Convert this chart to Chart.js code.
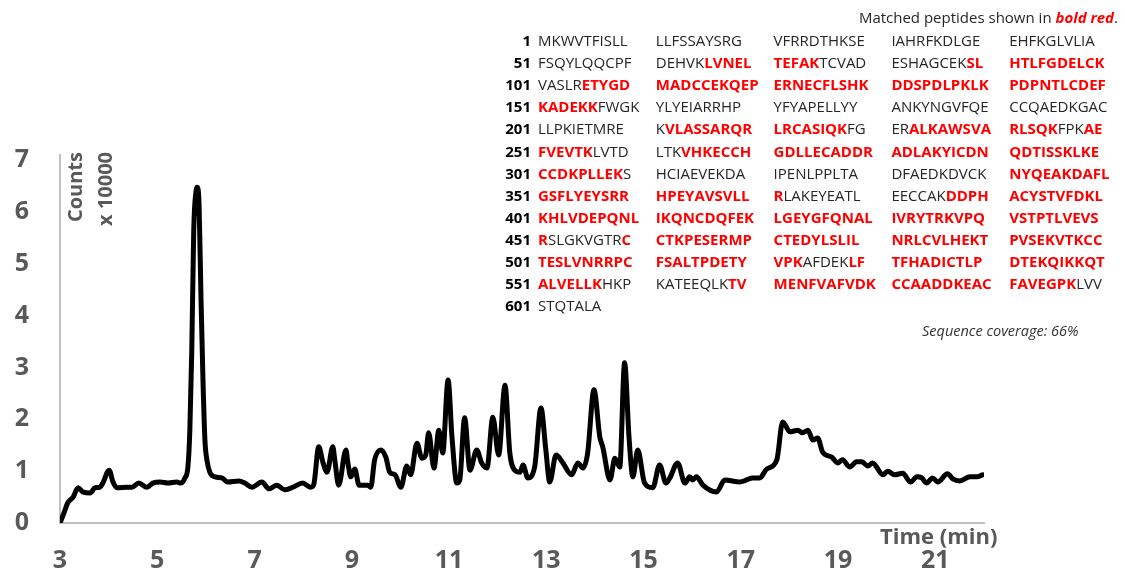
<!DOCTYPE html>
<html>
<head>
<meta charset="utf-8">
<title>Total ion chromatogram and sequence coverage</title>
<script src="https://cdn.jsdelivr.net/npm/chart.js@4/dist/chart.umd.min.js"></script>
<style>
  html, body { margin: 0; padding: 0; background: #fff; }
  #wrap { position: relative; width: 1127px; height: 569px; overflow: hidden; }
  #chart { position: absolute; left: 0; top: 0; }
  .txt { position: absolute; white-space: nowrap; font-family: "Open Sans", sans-serif; }
  .axisTitle { color: #595959; font-weight: bold; font-size: 20px; line-height: 24px; }
  .seq { font-size: 15px; line-height: 22px; color: #262626; }
  .num { font-weight: bold; color: #000; text-align: right; width: 40px; }
  .hit { color: #ff0000; font-weight: bold; }
</style>
</head>
<body>
<div id="wrap">
  <canvas id="chart" width="1127" height="569"></canvas>
</div>
<script>
// Retention time (min) and intensity (counts x 10000) of the chromatogram trace
const timeMin = [
  3.00, 3.08, 3.16, 3.27, 3.37, 3.47, 3.62, 3.72, 3.82, 3.88, 4.01, 4.09, 4.17, 4.38, 4.48,
  4.62, 4.79, 4.91, 5.06, 5.22, 5.40, 5.49, 5.57, 5.63, 5.67, 5.71, 5.75, 5.80, 5.82, 5.86,
  5.90, 5.94, 5.98, 6.02, 6.08, 6.19, 6.33, 6.45, 6.68, 6.80, 6.95, 7.15, 7.30, 7.46, 7.62,
  7.79, 7.99, 8.16, 8.22, 8.32, 8.41, 8.49, 8.61, 8.65, 8.73, 8.88, 8.92, 8.98, 9.06, 9.15,
  9.33, 9.39, 9.47, 9.60, 9.70, 9.78, 9.89, 10.01, 10.13, 10.21, 10.34, 10.44, 10.52, 10.58, 10.69,
  10.79, 10.87, 10.98, 11.06, 11.16, 11.22, 11.32, 11.43, 11.57, 11.67, 11.78, 11.90, 12.02, 12.15, 12.25,
  12.35, 12.46, 12.52, 12.62, 12.76, 12.89, 12.99, 13.07, 13.20, 13.34, 13.52, 13.65, 13.75, 13.85, 13.98,
  14.10, 14.16, 14.31, 14.41, 14.51, 14.61, 14.70, 14.78, 14.88, 15.02, 15.19, 15.33, 15.46, 15.54, 15.70,
  15.85, 15.95, 16.01, 16.09, 16.22, 16.50, 16.67, 16.98, 17.12, 17.24, 17.39, 17.53, 17.74, 17.86, 18.01,
  18.17, 18.27, 18.38, 18.48, 18.58, 18.68, 18.87, 18.99, 19.09, 19.24, 19.38, 19.49, 19.61, 19.71, 19.92,
  20.02, 20.16, 20.33, 20.49, 20.62, 20.72, 20.82, 20.94, 21.05, 21.25, 21.36, 21.50, 21.71, 21.85, 21.97
];
const counts = [
  0.00, 0.19, 0.39, 0.50, 0.68, 0.60, 0.58, 0.68, 0.69, 0.77, 1.02, 0.79, 0.68, 0.69, 0.69,
  0.77, 0.69, 0.77, 0.79, 0.77, 0.79, 0.77, 0.87, 1.08, 1.79, 3.34, 5.65, 6.42, 6.48, 6.13,
  4.30, 2.76, 1.60, 1.22, 0.98, 0.89, 0.87, 0.79, 0.81, 0.77, 0.69, 0.79, 0.66, 0.73, 0.64,
  0.69, 0.77, 0.69, 0.75, 1.47, 1.16, 0.98, 1.47, 1.22, 0.73, 1.41, 1.16, 0.89, 1.04, 0.73,
  0.73, 0.69, 1.22, 1.41, 1.27, 0.98, 0.93, 0.69, 1.10, 0.93, 1.54, 1.25, 1.31, 1.74, 1.06,
  1.79, 1.35, 2.76, 1.66, 0.77, 0.83, 2.03, 1.02, 1.41, 1.16, 1.06, 2.04, 1.31, 2.66, 1.35,
  1.02, 0.98, 1.12, 0.87, 1.08, 2.22, 1.41, 0.79, 1.31, 1.16, 0.93, 1.16, 1.06, 1.35, 2.57,
  1.66, 1.47, 0.83, 1.25, 1.08, 3.09, 1.66, 0.89, 1.41, 0.77, 0.68, 1.12, 0.77, 0.87, 1.16,
  0.77, 0.89, 0.83, 0.89, 0.73, 0.60, 0.83, 0.79, 0.83, 0.87, 0.87, 1.04, 1.22, 1.95, 1.76,
  1.79, 1.74, 1.79, 1.60, 1.64, 1.37, 1.27, 1.16, 1.22, 1.08, 1.18, 1.18, 1.10, 1.16, 0.93,
  1.00, 0.93, 0.96, 0.79, 0.89, 0.87, 0.77, 0.87, 0.79, 0.95, 0.85, 0.81, 0.89, 0.89, 0.93
];
const xTicks = [3, 5, 7, 9, 11, 13, 15, 17, 19, 21];
const yTicks = [0, 1, 2, 3, 4, 5, 6, 7];

// Protein sequence, ten residues per block
const sequenceBlocks = [
  "MKWVTFISLL", "LLFSSAYSRG", "VFRRDTHKSE", "IAHRFKDLGE", "EHFKGLVLIA",
  "FSQYLQQCPF", "DEHVKLVNEL", "TEFAKTCVAD", "ESHAGCEKSL", "HTLFGDELCK",
  "VASLRETYGD", "MADCCEKQEP", "ERNECFLSHK", "DDSPDLPKLK", "PDPNTLCDEF",
  "KADEKKFWGK", "YLYEIARRHP", "YFYAPELLYY", "ANKYNGVFQE", "CCQAEDKGAC",
  "LLPKIETMRE", "KVLASSARQR", "LRCASIQKFG", "ERALKAWSVA", "RLSQKFPKAE",
  "FVEVTKLVTD", "LTKVHKECCH", "GDLLECADDR", "ADLAKYICDN", "QDTISSKLKE",
  "CCDKPLLEKS", "HCIAEVEKDA", "IPENLPPLTA", "DFAEDKDVCK", "NYQEAKDAFL",
  "GSFLYEYSRR", "HPEYAVSVLL", "RLAKEYEATL", "EECCAKDDPH", "ACYSTVFDKL",
  "KHLVDEPQNL", "IKQNCDQFEK", "LGEYGFQNAL", "IVRYTRKVPQ", "VSTPTLVEVS",
  "RSLGKVGTRC", "CTKPESERMP", "CTEDYLSLIL", "NRLCVLHEKT", "PVSEKVTKCC",
  "TESLVNRRPC", "FSALTPDETY", "VPKAFDEKLF", "TFHADICTLP", "DTEKQIKKQT",
  "ALVELLKHKP", "KATEEQLKTV", "MENFVAFVDK", "CCAADDKEAC", "FAVEGPKLVV",
  "STQTALA"
];
// Residue ranges (1-based, inclusive) covered by matched peptides
const matchedRanges = [
  [66, 75], [89, 100], [106, 156], [212, 228], [233, 245], [249, 256],
  [264, 309], [341, 371], [387, 451], [460, 523], [529, 557], [569, 597]
];
const headerText = ["Matched peptides shown in ", "bold red", "."];
const coverageText = "Sequence coverage: 66%";
const yTitleLines = ["Counts", "x 10000"];
const xTitle = "Time (min)";

const tickFont = { family: "'Open Sans', sans-serif", size: 25, weight: 'bold' };
const axisGray = '#595959';
const lineGray = '#bfbfbf';

new Chart(document.getElementById('chart'), {
  type: 'line',
  data: {
    datasets: [{
      data: timeMin.map((t, i) => ({ x: t, y: counts[i] })),
      borderColor: '#000000',
      borderWidth: 5,
      pointRadius: 0,
      fill: false,
      cubicInterpolationMode: 'monotone',
      borderJoinStyle: 'round',
      borderCapStyle: 'round'
    }]
  },
  options: {
    responsive: false,
    animation: false,
    events: [],
    layout: { padding: { top: 155, right: 143, left: 0, bottom: 0 } },
    plugins: { legend: { display: false }, tooltip: { enabled: false } },
    scales: {
      x: {
        type: 'linear',
        min: 3,
        max: 22,
        afterBuildTicks: s => { s.ticks = xTicks.map(v => ({ value: v })); },
        afterFit: s => { s.height = 46; },
        grid: { display: false, drawTicks: false },
        border: { display: true, color: lineGray, width: 2 },
        ticks: { font: tickFont, color: axisGray, padding: 23, maxRotation: 0, autoSkip: false }
      },
      y: {
        min: 0,
        max: 7.1,
        afterBuildTicks: s => { s.ticks = yTicks.map(v => ({ value: v })); },
        afterFit: s => { s.width = 60; },
        grid: { display: false, drawTicks: false },
        border: { display: true, color: lineGray, width: 2 },
        ticks: { font: tickFont, color: axisGray, padding: 31 }
      }
    }
  }
});

// Text overlays: axis titles and the sequence coverage map
const wrap = document.getElementById('wrap');
function addText(cls, css, html) {
  const d = document.createElement('div');
  d.className = 'txt ' + cls;
  Object.assign(d.style, css);
  d.innerHTML = html;
  wrap.appendChild(d);
  return d;
}

// Rotated y-axis title lines, aligned at their ends near the top of the axis
yTitleLines.forEach((line, i) => {
  const d = addText('axisTitle', { left: '0px', top: '0px', transformOrigin: '0 0' }, line);
  const cx = [75, 105][i];
  d.style.transform = 'translate(' + (cx - 12) + 'px, 152px) rotate(-90deg) translateX(-100%)';
});
addText('axisTitle', { left: '880px', top: '523px', fontSize: '22px' }, xTitle);

// Header line
addText('seq', { right: '9px', top: '6px' },
  headerText[0] + '<span class="hit" style="font-style:italic">' + headerText[1] + '</span>' + headerText[2]);

const covered = new Set();
matchedRanges.forEach(([a, b]) => { for (let k = a; k <= b; k++) covered.add(k); });

function blockHtml(block, startIndex) {
  let out = '', cur = null, buf = '';
  for (let c = 0; c < block.length; c++) {
    const hit = covered.has(startIndex + c + 1);
    if (hit !== cur && buf) {
      out += cur ? '<span class="hit">' + buf + '</span>' : buf;
      buf = '';
    }
    cur = hit;
    buf += block[c];
  }
  if (buf) out += cur ? '<span class="hit">' + buf + '</span>' : buf;
  return out;
}

const rowTop0 = 29, rowStep = 22.1, colLeft0 = 538, colStep = 117.8;
for (let r = 0; r * 5 < sequenceBlocks.length; r++) {
  const top = (rowTop0 + r * rowStep) + 'px';
  addText('seq num', { left: '491px', top: top }, String(r * 50 + 1));
  for (let j = 0; j < 5; j++) {
    const bi = r * 5 + j;
    if (bi >= sequenceBlocks.length) break;
    addText('seq', { left: (colLeft0 + j * colStep) + 'px', top: top },
      blockHtml(sequenceBlocks[bi], bi * 10));
  }
}

addText('seq', { left: '922px', top: '320px', fontSize: '14.5px', fontStyle: 'italic', color: '#333' }, coverageText);
</script>
</body>
</html>
